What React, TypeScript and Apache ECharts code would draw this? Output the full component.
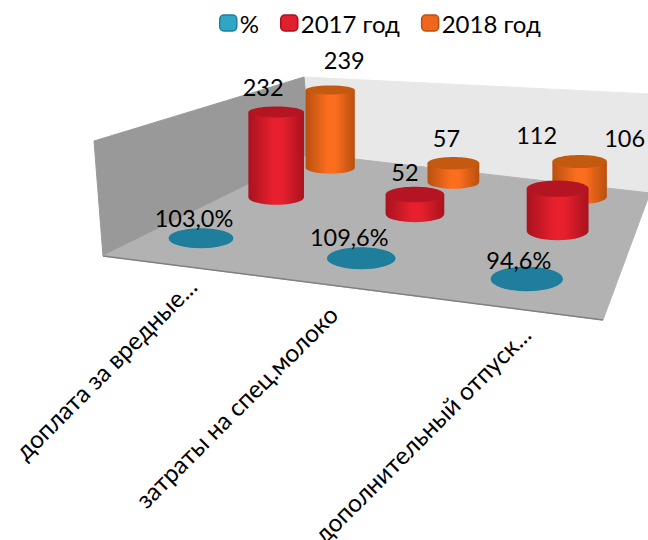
import React, { useEffect, useRef } from "react";
import * as echarts from "echarts";

const categories = ["доплата за вредные...", "затраты на спец.молоко", "дополнительный отпуск..."];
const seriesNames = ["%", "2017 год", "2018 год"];
const pctValues = [1.03, 1.096, 0.946];
const values2017 = [232, 52, 112];
const values2018 = [239, 57, 106];

const FONT = "Lato";
const FS = 23.5;
const FS_CAT = 24.5;
const FS_LEG = 24;
const FL = [103, 256], FR = [603, 320], BR = [650, 193], BL = [311, 154];
const WALL_TL = [94, 141], WALL_TR = [304, 77], BACK_R = [650, 94];
const GRID_W = 300, GRID_H = 138, Y_MAX = 300;
const U_OFF = -0.065, U_SCALE = 1.06;
const DEPTH_V = [0.17, 0.53, 0.87];
const LABEL_OFF = [
  [[-7, -20], [-12, -21], [-8, -19]],
  [[-13, -25], [-10, -23], [-21, -54]],
  [[14, -30], [-7, -25], [45, -23]],
];
const CAT_END = [[192, 282], [333, 310], [526, 330]];
const STYLES = [
  { edge: "#1f7e9c", mid: "#1f7e9c", top: "#1f7e9c", legend: "#2ea6c6", border: "#1f7e9c", z: 6 },
  { edge: "#a8121e", mid: "#e8202e", top: "#b51522", legend: "#e0202e", border: "#a8121e", z: 5 },
  { edge: "#b9500f", mid: "#fb6e1e", top: "#c35a10", legend: "#f0661c", border: "#b9500f", z: 4 },
];

const dx1 = FR[0] - BR[0], dy1 = FR[1] - BR[1], dx2 = BL[0] - BR[0], dy2 = BL[1] - BR[1];
const sx = FL[0] - FR[0] + BR[0] - BL[0], sy = FL[1] - FR[1] + BR[1] - BL[1];
const den = dx1 * dy2 - dx2 * dy1;
const g = (sx * dy2 - dx2 * sy) / den, h = (dx1 * sy - sx * dy1) / den;
const a = FR[0] - FL[0] + g * FR[0], b = BL[0] - FL[0] + h * BL[0];
const d = FR[1] - FL[1] + g * FR[1], e = BL[1] - FL[1] + h * BL[1];
function project(u: number, v: number) {
  const w = 1 + g * u + h * v;
  return { x: (a * u + b * v + FL[0]) / w, y: (d * u + e * v + FL[1]) / w, s: 1 / w };
}
const ratio = (y: number) => 0.11 + 0.0008 * y;
const pctText = (v: number) => (v * 100).toFixed(1).replace(".", ",") + "%";

function makeSeries(si: number, vals: number[]) {
  const st = STYLES[si];
  return {
    type: "custom",
    name: seriesNames[si],
    z: st.z,
    coordinateSystem: "cartesian2d",
    encode: { x: 0, y: 1 },
    data: vals.map((v, i) => [i, v]),
    itemStyle: { color: st.legend },
    renderItem: (_p: any, api: any) => {
      const i = api.value(0), val = api.value(1);
      const frac = api.coord([i, 0])[0] / GRID_W;
      const u = U_OFF + U_SCALE * frac;
      const P = project(u, DEPTH_V[si]);
      const r = (34.3 + 4 * u) * P.s;
      const hPx = api.size([0, val])[1] * P.s;
      const topY = P.y - hPx;
      const ryB = r * ratio(P.y), ryT = r * ratio(topY);
      const pathData = `M${P.x - r} ${topY}L${P.x - r} ${P.y}A${r} ${ryB} 0 0 0 ${P.x + r} ${P.y}L${P.x + r} ${topY}Z`;
      const off = LABEL_OFF[si][i];
      return {
        type: "group",
        children: [
          {
            type: "path",
            shape: { pathData },
            style: {
              fill: {
                type: "linear", x: 0, y: 0, x2: 1, y2: 0,
                colorStops: [
                  { offset: 0, color: st.edge },
                  { offset: 0.45, color: st.mid },
                  { offset: 0.6, color: st.mid },
                  { offset: 1, color: st.edge },
                ],
              },
            },
          },
          { type: "ellipse", shape: { cx: P.x, cy: topY, rx: r, ry: ryT }, style: { fill: st.top } },
          {
            type: "text",
            z2: 10,
            style: {
              text: si === 0 ? pctText(val) : String(val),
              x: P.x + off[0], y: topY + off[1],
              align: "center", verticalAlign: "middle",
              fill: "#000", fontFamily: FONT, fontSize: FS,
            },
          },
        ],
      };
    },
  };
}

export default function App() {
  const ref = useRef<HTMLDivElement>(null);
  useEffect(() => {
    document.body.style.margin = "0";
    const chart = echarts.init(ref.current!, null, { renderer: "svg" });
    const wall = (pts: number[][], fill: string, stroke?: string) => ({
      type: "polygon", z: -1, silent: true,
      shape: { points: pts }, style: { fill, stroke: stroke || fill, lineWidth: 1 },
    });
    chart.setOption({
      animation: false,
      backgroundColor: "#ffffff",
      grid: { left: 0, top: 0, width: GRID_W, height: GRID_H },
      xAxis: { type: "category", data: categories, show: false },
      yAxis: { type: "value", min: 0, max: Y_MAX, show: false },
      legend: {
        left: 214, top: 6, itemWidth: 17, itemHeight: 16, itemGap: 21, icon: "roundRect",
        textStyle: { fontFamily: FONT, fontSize: FS_LEG, color: "#000", padding: [0, 0, 0, -2] },
        data: seriesNames.map((name, i) => ({
          name,
          itemStyle: { color: STYLES[i].legend, borderColor: STYLES[i].border, borderWidth: 1.5 },
        })),
      },
      graphic: {
        elements: [
          wall([WALL_TR, BACK_R, BR, BL], "#e8e8e8"),
          wall([WALL_TL, WALL_TR, BL, FL], "#999999"),
          wall([FL, FR, BR, BL], "#b2b2b2", "#b2b2b2"),
          { type: "line", z: -1, silent: true, shape: { x1: FL[0], y1: FL[1], x2: FR[0], y2: FR[1] }, style: { stroke: "#808080", lineWidth: 1.5 } },
        ],
      },
      series: [
        makeSeries(0, pctValues),
        makeSeries(1, values2017),
        makeSeries(2, values2018),
        {
          type: "custom",
          z: 7,
          coordinateSystem: "cartesian2d",
          encode: { x: 0, y: 1 },
          data: categories.map((_c, i) => [i, 0]),
          renderItem: (_p: any, api: any) => {
            const i = api.value(0);
            return {
              type: "text",
              x: CAT_END[i][0], y: CAT_END[i][1],
              rotation: Math.PI / 4,
              style: {
                text: categories[i], x: 0, y: 0,
                align: "right", verticalAlign: "middle",
                fill: "#000", fontFamily: FONT, fontSize: FS_CAT,
              },
            };
          },
        },
      ],
    } as any);
    return () => chart.dispose();
  }, []);
  return <div ref={ref} style={{ width: 648, height: 540, overflow: "hidden" }} />;
}
